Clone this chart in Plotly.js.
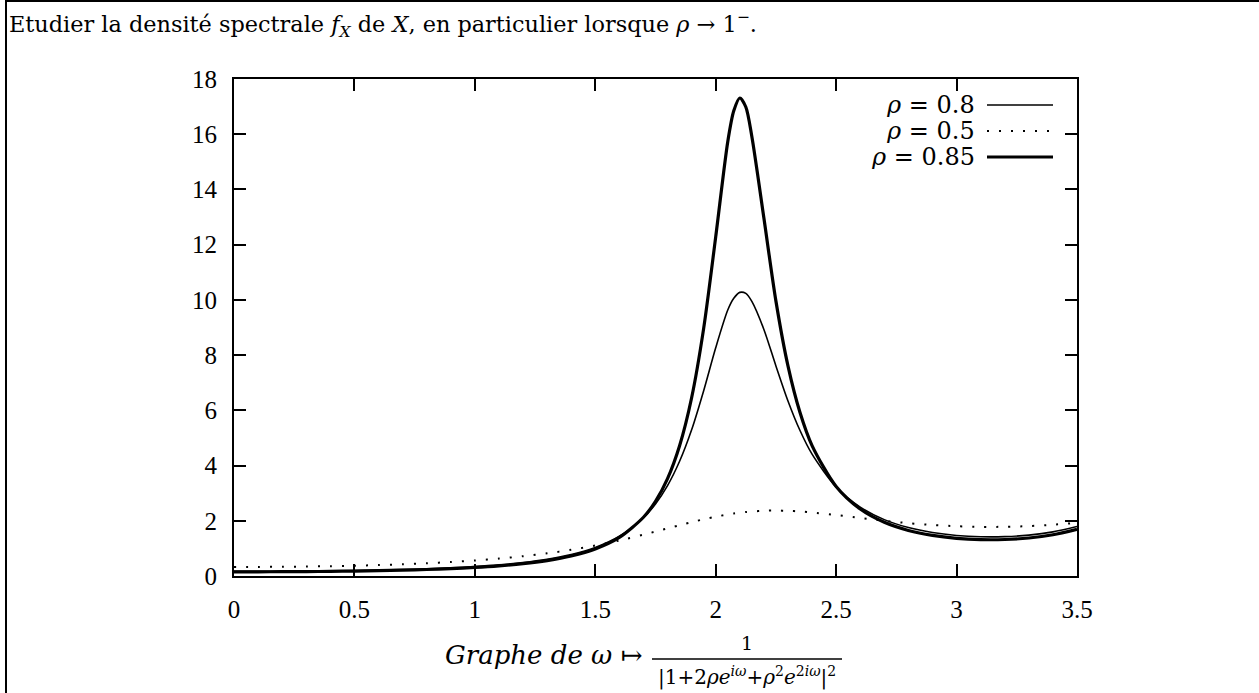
<!DOCTYPE html>
<html>
<head>
<meta charset="utf-8">
<script src="https://cdn.plot.ly/plotly-3.0.1.min.js"></script>
<style>
  html, body { margin: 0; padding: 0; background: #fff; }
  #chart { position: absolute; left: 0; top: 0; width: 1259px; height: 693px; }
  #frame { position: absolute; left: 5px; top: 0; width: 1254px; height: 693px;
           border-left: 2px solid #000; border-top: 2px solid #000; box-sizing: border-box;
           pointer-events: none; z-index: 5; }
</style>
</head>
<body>
<div id="chart"></div>
<div id="frame"></div>
<script>
// ω values (abscissa)
const omega = [0,0.1,0.2,0.3,0.4,0.5,0.6,0.7,0.8,0.9,1.0,1.1,1.2,1.3,1.4,1.5,1.6,1.7,1.75,1.8,1.85,1.9,1.95,2.0,2.05,2.075,2.1,2.125,2.15,2.2,2.25,2.3,2.35,2.4,2.5,2.6,2.7,2.8,2.9,3.0,3.1,3.2,3.3,3.4,3.5];
// spectral density read for ρ = 0.8
const rho08 = [0.168,0.169,0.172,0.178,0.187,0.198,0.214,0.234,0.260,0.295,0.341,0.402,0.486,0.604,0.775,1.033,1.439,2.110,2.609,3.273,4.154,5.295,6.711,8.267,9.633,10.059,10.272,10.237,9.945,8.930,7.607,6.340,5.268,4.412,3.221,2.495,2.042,1.755,1.574,1.469,1.422,1.426,1.482,1.599,1.794];
// ρ = 0.5
const rho05 = [0.327,0.328,0.334,0.343,0.356,0.373,0.396,0.425,0.461,0.506,0.562,0.631,0.716,0.821,0.949,1.104,1.287,1.497,1.609,1.724,1.839,1.950,2.054,2.148,2.229,2.262,2.292,2.317,2.336,2.363,2.370,2.361,2.337,2.301,2.208,2.102,2.001,1.914,1.847,1.802,1.780,1.782,1.807,1.856,1.927];
// ρ = 0.85
const rho085 = [0.151,0.152,0.155,0.160,0.168,0.179,0.193,0.211,0.236,0.268,0.310,0.367,0.446,0.559,0.724,0.979,1.396,2.127,2.707,3.529,4.720,6.457,8.968,12.284,15.730,16.849,17.312,16.986,15.918,12.965,9.955,7.609,5.921,4.724,3.242,2.425,1.944,1.650,1.469,1.364,1.318,1.322,1.377,1.493,1.690];

const seriesNames = ['ρ = 0.8', 'ρ = 0.5', 'ρ = 0.85'];
const xTickVals = [0,0.5,1,1.5,2,2.5,3,3.5];
const xTickText = ['0','0.5','1','1.5','2','2.5','3','3.5'];
const yTickVals = [0,2,4,6,8,10,12,14,16,18];
const yTickText = ['0','2','4','6','8','10','12','14','16','18'];

const W = 1259, H = 693;
const M = {l: 234, r: 182, t: 79, b: 117};
const PW = W - M.l - M.r, PH = H - M.t - M.b;
const px = v => (v - M.l) / PW;           // page px -> paper x
const py = v => 1 - (v - M.t) / PH;       // page px -> paper y

const TICKFONT = 'Liberation Serif, serif';
const TEXTFONT = 'DejaVu Serif, serif';

const styles = [
  {color: '#000', width: 1.6},
  {color: '#000', width: 2, dash: '2px,10px'},
  {color: '#000', width: 3.2}
];
const ydata = [rho08, rho05, rho085];

const traces = ydata.map((y, i) => ({
  x: omega, y: y, type: 'scatter', mode: 'lines', name: seriesNames[i],
  line: Object.assign({shape: 'spline', smoothing: 0.8}, styles[i]),
  showlegend: false, hoverinfo: 'skip'
}));

// legend (gnuplot style: label then sample)
const legendRows = [105, 131, 157];
const annotations = [];
const shapes = [];
seriesNames.forEach((n, i) => {
  annotations.push({
    text: '<i>ρ</i> = ' + n.split('= ')[1], xref: 'paper', yref: 'paper',
    x: px(976), y: py(legendRows[i]), xanchor: 'right', yanchor: 'middle',
    height: 24, valign: 'middle', borderpad: 0,
    showarrow: false, font: {family: TEXTFONT, size: 24, color: '#000'}
  });
  shapes.push({
    type: 'line', xref: 'paper', yref: 'paper',
    x0: px(987), x1: px(1053), y0: py(legendRows[i]), y1: py(legendRows[i]),
    line: {color: '#000', width: styles[i].width, dash: styles[i].dash}
  });
});

// x caption
annotations.push({
  text: '<i>Graphe de ω</i> ↦', xref: 'paper', yref: 'paper',
  x: px(645), y: py(655), xanchor: 'right', yanchor: 'middle',
  showarrow: false, font: {family: TEXTFONT, size: 26, color: '#000'}
});
annotations.push({
  text: '1', xref: 'paper', yref: 'paper',
  x: px(747), y: py(656), xanchor: 'center', yanchor: 'bottom',
  showarrow: false, font: {family: TEXTFONT, size: 19, color: '#000'}
});
annotations.push({
  text: '|1+2<i>ρe</i><sup><i>iω</i></sup>+<i>ρ</i><sup>2</sup><i>e</i><sup>2<i>iω</i></sup>|<sup>2</sup>',
  xref: 'paper', yref: 'paper',
  x: px(747), y: py(661), xanchor: 'center', yanchor: 'top',
  showarrow: false, font: {family: TEXTFONT, size: 20, color: '#000'}
});
shapes.push({type: 'line', xref: 'paper', yref: 'paper',
  x0: px(652), x1: px(842), y0: py(659), y1: py(659), line: {color: '#000', width: 1.3}});

const axisCommon = {
  showgrid: false, zeroline: false, showline: true, linecolor: '#000', linewidth: 2,
  mirror: 'allticks', ticks: 'inside', ticklen: 12, tickwidth: 2, tickcolor: '#000',
  tickfont: {family: TICKFONT, size: 25, color: '#000'}, fixedrange: true
};

const layout = {
  width: W, height: H, margin: M,
  paper_bgcolor: '#fff', plot_bgcolor: 'rgba(0,0,0,0)',
  font: {family: TICKFONT, color: '#000'},
  title: {
    text: 'Etudier la densité spectrale <i>f</i><sub><i>X</i></sub> de <i>X</i>, en particulier lorsque <i>ρ</i> → 1<sup>−</sup>.',
    x: 9 / W, xanchor: 'left', xref: 'container',
    y: 1 - 24 / H, yanchor: 'middle', yref: 'container',
    font: {family: TEXTFONT, size: 22.4, color: '#000'}
  },
  xaxis: Object.assign({}, axisCommon, {range: [0, 3.5], tickvals: xTickVals, ticktext: xTickText, ticklabelstandoff: 10}),
  yaxis: Object.assign({}, axisCommon, {range: [0, 18], tickvals: yTickVals, ticktext: yTickText, ticklabelstandoff: 10}),
  showlegend: false,
  annotations: annotations,
  shapes: shapes
};

Plotly.newPlot('chart', traces, layout, {displayModeBar: false, staticPlot: true});
</script>
</body>
</html>
